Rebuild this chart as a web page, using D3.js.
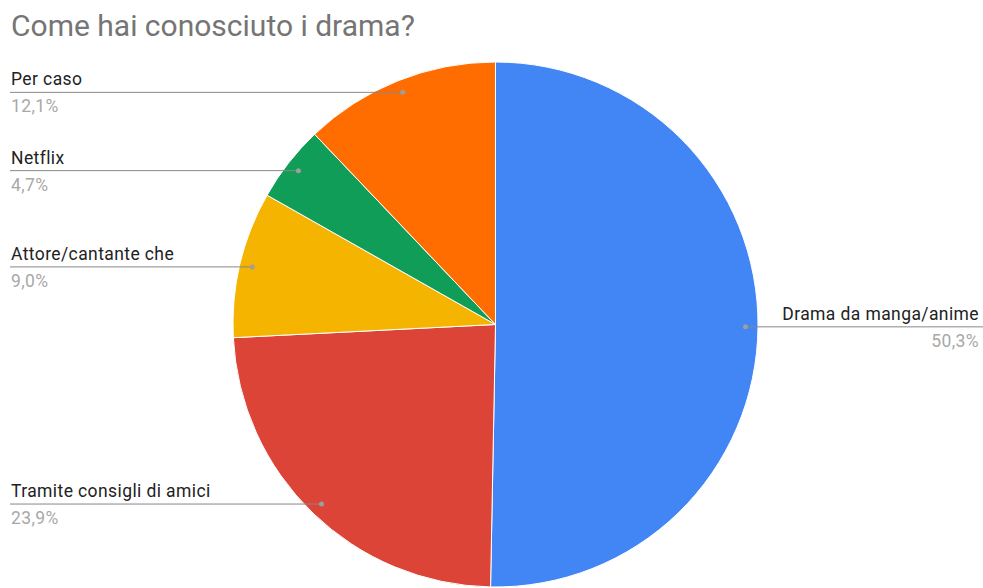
<!DOCTYPE html>
<html><head><meta charset="utf-8">
<script src="https://cdn.jsdelivr.net/npm/d3@7"></script>
<style>body{margin:0;background:#fff;} svg{display:block;font-family:Roboto, sans-serif;}</style>
</head><body>
<svg id="c" width="983" height="588"></svg>
<script>
const title = "Come hai conosciuto i drama?";
const categories = ["Drama da manga/anime","Tramite consigli di amici","Attore/cantante che","Netflix","Per caso"];
const values = [50.3, 23.9, 9.0, 4.7, 12.1];
const labels = ["50,3%","23,9%","9,0%","4,7%","12,1%"];
const colors = ["#4285F4","#DB4437","#F4B400","#0F9D58","#FF6D01"];

const W=983,H=588, cx=495.5, cy=324.5, R=262.5, rDot=250;
const svg=d3.select("#c");
svg.append("text").attr("x",11).attr("y",36).attr("font-size",30).attr("fill","#757575").text(title);

const data=categories.map((c,i)=>({c,v:values[i],l:labels[i],col:colors[i]}));
const pie=d3.pie().sort(null).value(d=>d.v);
const arcs=pie(data);
const arc=d3.arc().innerRadius(0).outerRadius(R);
const g=svg.append("g").attr("transform",`translate(${cx},${cy})`);
g.selectAll("path").data(arcs).join("path").attr("d",arc).attr("fill",d=>d.data.col).attr("stroke","#fff").attr("stroke-width",1);

arcs.forEach(a=>{
  const m=(a.startAngle+a.endAngle)/2;
  const x=cx+rDot*Math.sin(m), y=cy-rDot*Math.cos(m);
  const right = Math.sin(m)>0;
  const x0 = right? W : 10;
  svg.append("line").attr("x1",x).attr("x2",x0).attr("y1",y).attr("y2",y).attr("stroke","#888").attr("stroke-width",1);
  svg.append("circle").attr("cx",x).attr("cy",y).attr("r",2.5).attr("fill","#9e9e9e");
  const tx = right? 979 : 11;
  const anchor = right? "end":"start";
  svg.append("text").attr("x",tx).attr("y",y-7).attr("text-anchor",anchor).attr("font-size",17.5).attr("letter-spacing",0.4).attr("fill","#222").text(a.data.c);
  svg.append("text").attr("x",tx).attr("y",y+20).attr("text-anchor",anchor).attr("font-size",17.5).attr("letter-spacing",0.4).attr("fill","#a8a8a8").text(a.data.l);
});
</script>
</body></html>
